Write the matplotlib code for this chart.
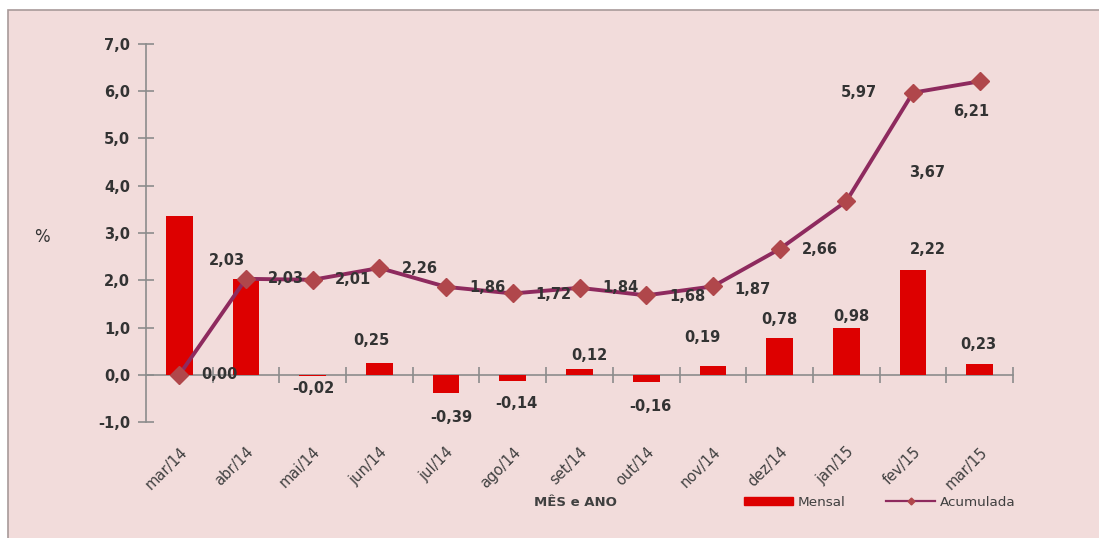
import matplotlib
matplotlib.use("Agg")
import matplotlib.pyplot as plt
import matplotlib.patches as mpatches
from matplotlib.lines import Line2D
import numpy as np

# ---- data ----
categories = ["mar/14", "abr/14", "mai/14", "jun/14", "jul/14", "ago/14", "set/14",
              "out/14", "nov/14", "dez/14", "jan/15", "fev/15", "mar/15"]
mensal = [3.35, 2.03, -0.02, 0.25, -0.39, -0.14, 0.12, -0.16, 0.19, 0.78, 0.98, 2.22, 0.23]
mensal_labels = ["", "2,03", "-0,02", "0,25", "-0,39", "-0,14", "0,12", "-0,16", "0,19",
                 "0,78", "0,98", "2,22", "0,23"]
acumulada = [0.00, 2.03, 2.01, 2.26, 1.86, 1.72, 1.84, 1.68, 1.87, 2.66, 3.67, 5.97, 6.21]
acum_labels = ["0,00", "2,03", "2,01", "2,26", "1,86", "1,72", "1,84", "1,68", "1,87",
               "2,66", "3,67", "5,97", "6,21"]
yticks = [-1, 0, 1, 2, 3, 4, 5, 6, 7]
ytick_labels = ["-1,0", "0,0", "1,0", "2,0", "3,0", "4,0", "5,0", "6,0", "7,0"]

# label offsets in pixels (style/position only)
mensal_off = [(0, 0), (-19, 18), (1, -13), (-8, 22), (5, -24), (4, -22), (10, 14),
              (4, -24), (-11, 28), (0, 18), (5, 12), (15, 20), (-1, 19)]
acum_off = [(40, 0), (40, 0), (40, 0), (40, -1), (41, -1), (41, -1), (41, 0),
            (41, -1), (40, -3), (40, 0), (81, 29), (-54, 0), (-8, -30)]

BG = "#F2DCDB"
BAR = "#DD0000"
LINE = "#8E2A5E"
MARK = "#B0474B"
TXT = "#333333"
AX = "#8C8C8C"

fig = plt.figure(figsize=(10.99, 5.38), dpi=100, facecolor="white")
bgrect = mpatches.Rectangle((8 / 1099, -0.05), 1.05, 1.05 - 10 / 538,
                            transform=fig.transFigure, facecolor=BG,
                            edgecolor="#A89A9A", linewidth=1.2, zorder=-10)
fig.patches.append(bgrect)

ax = fig.add_axes([146 / 1099, (538 - 422) / 538, (1013 - 146) / 1099, (422 - 44) / 538])
ax.set_facecolor("none")
x = np.arange(len(categories))

ax.bar(x, mensal, width=0.4, color=BAR, zorder=2)
ax.plot(x, acumulada, color=LINE, lw=2.8, marker="D", markersize=9,
        markerfacecolor=MARK, markeredgecolor=MARK, zorder=3)

for i in range(len(categories)):
    if mensal_labels[i]:
        ax.annotate(mensal_labels[i], xy=(x[i], mensal[i]), xytext=mensal_off[i],
                    textcoords="offset pixels", ha="center", va="center",
                    fontsize=10.5, fontweight="bold", color=TXT, zorder=5)
    ax.annotate(acum_labels[i], xy=(x[i], acumulada[i]), xytext=acum_off[i],
                textcoords="offset pixels", ha="center", va="center",
                fontsize=10.5, fontweight="bold", color=TXT, zorder=5)

ax.set_xlim(-0.5, len(categories) - 0.5)
ax.set_ylim(-1, 7)

for s in ["top", "right"]:
    ax.spines[s].set_visible(False)
ax.spines["left"].set_color(AX)
ax.spines["left"].set_linewidth(1.2)
ax.spines["bottom"].set_position(("data", 0))
ax.spines["bottom"].set_color(AX)
ax.spines["bottom"].set_linewidth(1.2)
ax.spines["bottom"].set_zorder(1)

ax.set_yticks(yticks)
ax.set_yticklabels(ytick_labels, fontsize=10.5, fontweight="bold", color=TXT)
ax.tick_params(axis="y", direction="inout", length=11, color=AX, width=1.2, pad=6)

ax.set_xticks(x)
ax.set_xticklabels(categories, rotation=45, ha="right", va="top",
                   rotation_mode="anchor", fontsize=10.5, color="#404040")
ax.set_xticks(np.arange(0.5, len(categories), 1), minor=True)
ax.tick_params(axis="x", which="major", length=0, pad=50)
ax.tick_params(axis="x", which="minor", direction="inout", length=11, color=AX, width=1.2)

fig.text(42 / 1099, 1 - 237 / 538, "%", fontsize=12, color=TXT, ha="center", va="center")
fig.text(575 / 1099, 1 - 502 / 538, "MÊS e ANO", fontsize=9.5, fontweight="bold",
         color="#404040", ha="center", va="center")

h_bar = mpatches.Patch(color=BAR)
h_line = Line2D([], [], color=LINE, lw=1.6, marker="D", markersize=3.5,
                markerfacecolor=MARK, markeredgecolor=MARK)
fig.legend([h_bar, h_line], ["Mensal", "Acumulada"], ncol=2, frameon=False,
           loc="center", bbox_to_anchor=(880 / 1099, 1 - 502 / 538),
           fontsize=9.7, labelcolor="#404040", handlelength=3.6, handleheight=0.5,
           columnspacing=3.0, handletextpad=0.4)

fig.savefig("out.png", dpi=100, facecolor="white")
